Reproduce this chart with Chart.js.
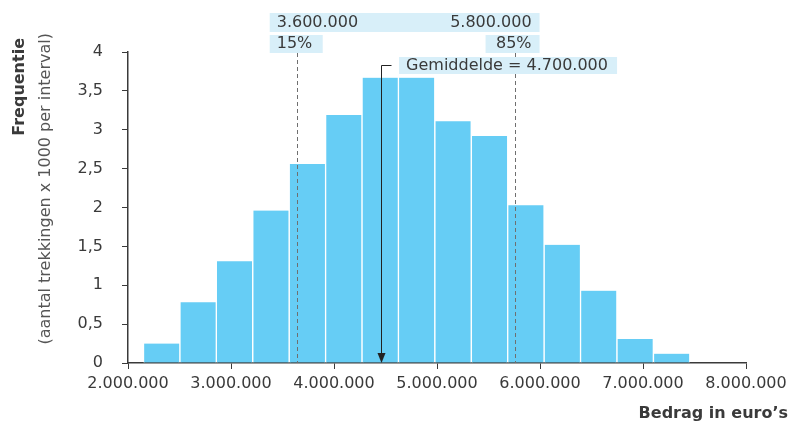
<!DOCTYPE html>
<html>
<head>
<meta charset="utf-8">
<script src="https://cdn.jsdelivr.net/npm/chart.js@4.4.1/dist/chart.umd.min.js"></script>
<style>
    html, body { margin: 0; padding: 0; background: #fff; }
    canvas { display: block; }
</style>
</head>
<body>
<canvas id="histChart" width="792" height="425"></canvas>
<script>
// histogram bins (centre of each interval, euro) and frequency (x 1000)
const binCenters = [2327000, 2681000, 3034000, 3388000, 3742000, 4095000, 4449000, 4802000,
    5156000, 5510000, 5863000, 6217000, 6570000, 6924000, 7278000];
const frequency = [0.25, 0.78, 1.31, 1.96, 2.56, 3.19, 3.67, 3.67, 3.11, 2.92, 2.03, 1.52, 0.93, 0.31, 0.12];

// marker positions as drawn, and their printed labels
const markerValues = [3638000, 5753000, 4457000];
const markerLabels = ['3.600.000', '5.800.000', 'Gemiddelde = 4.700.000'];
const percentLabels = ['15%', '85%'];

const xTickValues = [2000000, 3000000, 4000000, 5000000, 6000000, 7000000, 8000000];
const yTickValues = [0, 0.5, 1, 1.5, 2, 2.5, 3, 3.5, 4];

const FONT = '"DejaVu Sans", sans-serif';
const TEXT = '#3a3a3a';
const BOX = '#d8eff9';

const formatEuro = v => String(v).replace(/\B(?=(\d{3})+(?!\d))/g, '.');

const annotations = {
    id: 'annotations',
    afterDatasetsDraw(chart) {
        const ctx = chart.ctx;
        const x = chart.scales.x;
        const y = chart.scales.y;
        const bottom = y.getPixelForValue(0);
        const x15 = x.getPixelForValue(markerValues[0]);
        const x85 = x.getPixelForValue(markerValues[1]);
        const xMean = x.getPixelForValue(markerValues[2]);

        ctx.save();
        // dashed percentile lines
        ctx.strokeStyle = '#6f6f6f';
        ctx.lineWidth = 1;
        ctx.setLineDash([4, 3]);
        [x15, x85].forEach(px => {
            ctx.beginPath();
            ctx.moveTo(Math.round(px) + 0.5, 53);
            ctx.lineTo(Math.round(px) + 0.5, bottom);
            ctx.stroke();
        });
        ctx.setLineDash([]);

        // mean arrow
        const mx = Math.round(xMean) + 0.5;
        ctx.strokeStyle = '#222';
        ctx.beginPath();
        ctx.moveTo(mx + 10, 65.5);
        ctx.lineTo(mx, 65.5);
        ctx.lineTo(mx, bottom - 8);
        ctx.stroke();
        ctx.fillStyle = '#222';
        ctx.beginPath();
        ctx.moveTo(mx - 4, bottom - 10);
        ctx.lineTo(mx + 4, bottom - 10);
        ctx.lineTo(mx, bottom);
        ctx.closePath();
        ctx.fill();

        // label boxes
        ctx.fillStyle = BOX;
        ctx.fillRect(x15 - 27, 13, (x85 + 25) - (x15 - 27), 19);
        ctx.fillRect(x15 - 27, 35, 53, 18);
        ctx.fillRect(x85 - 29, 35, 54, 18);
        ctx.fillRect(xMean + 18, 57, 218, 17);

        ctx.fillStyle = TEXT;
        ctx.font = '16px ' + FONT;
        ctx.textBaseline = 'middle';
        ctx.textAlign = 'left';
        ctx.fillText(markerLabels[0], x15 - 20, 23);
        ctx.fillText(percentLabels[0], x15 - 20, 44);
        ctx.fillText(markerLabels[2], xMean + 25, 66);
        ctx.textAlign = 'right';
        ctx.fillText(markerLabels[1], x85 + 17, 23);
        ctx.fillText(percentLabels[1], x85 + 17, 44);
        ctx.restore();
    },
    afterDraw(chart) {
        const ctx = chart.ctx;
        ctx.save();
        ctx.fillStyle = TEXT;
        ctx.textBaseline = 'middle';

        // y axis titles (rotated)
        ctx.save();
        ctx.translate(20, 38);
        ctx.rotate(-Math.PI / 2);
        ctx.textAlign = 'right';
        ctx.font = 'bold 16px ' + FONT;
        ctx.fillText('Frequentie', 0, 0);
        ctx.restore();

        ctx.save();
        ctx.translate(46, 33);
        ctx.rotate(-Math.PI / 2);
        ctx.textAlign = 'right';
        ctx.font = '16px ' + FONT;
        ctx.fillStyle = '#555';
        ctx.fillText('(aantal trekkingen x 1000 per interval)', 0, 0);
        ctx.restore();

        // x axis title
        ctx.textAlign = 'right';
        ctx.font = 'bold 16px ' + FONT;
        ctx.fillText('Bedrag in euro\u2019s', 788, 414);
        ctx.restore();
    }
};

const histConfig = {
    type: 'bar',
    data: {
        datasets: [{
            data: binCenters.map((c, i) => ({ x: c, y: frequency[i] })),
            backgroundColor: '#66cdf5',
            borderColor: '#ffffff',
            borderWidth: { left: 1, right: 1, top: 0, bottom: 0 },
            borderSkipped: 'bottom',
            barPercentage: 1,
            categoryPercentage: 1
        }]
    },
    options: {
        responsive: false,
        animation: false,
        devicePixelRatio: 1,
        layout: {
            padding: {
                top: 52,
                bottom: 0,
                left: 0,
                right: 46
            }
        },
        scales: {
            x: {
                type: 'linear',
                min: 2000000,
                max: 8000000,
                offset: false,
                afterFit(scale) { scale.height = 62; },
                afterBuildTicks(scale) { scale.ticks = xTickValues.map(v => ({ value: v })); },
                grid: {
                    offset: false,
                    drawOnChartArea: false,
                    drawTicks: true,
                    tickLength: 6,
                    color: '#3a3a3a'
                },
                border: { display: true, color: '#3a3a3a', width: 1.5 },
                ticks: {
                    padding: 5,
                    maxRotation: 0,
                    autoSkip: false,
                    color: TEXT,
                    font: { family: FONT, size: 16 },
                    callback: v => formatEuro(v)
                }
            },
            y: {
                min: 0,
                max: 4,
                afterFit(scale) { scale.width = 128; },
                afterBuildTicks(scale) { scale.ticks = yTickValues.map(v => ({ value: v })); },
                grid: {
                    drawOnChartArea: false,
                    drawTicks: true,
                    tickLength: 6,
                    color: '#3a3a3a'
                },
                border: { display: true, color: '#3a3a3a', width: 1.5 },
                ticks: {
                    padding: 19,
                    color: TEXT,
                    font: { family: FONT, size: 16 },
                    callback: v => String(v).replace('.', ',')
                }
            }
        },
        plugins: {
            legend: {
                display: false
            },
            tooltip: {
                enabled: false
            }
        }
    },
    plugins: [annotations]
};

const histChart = new Chart(document.getElementById('histChart'), histConfig);
</script>
</body>
</html>
